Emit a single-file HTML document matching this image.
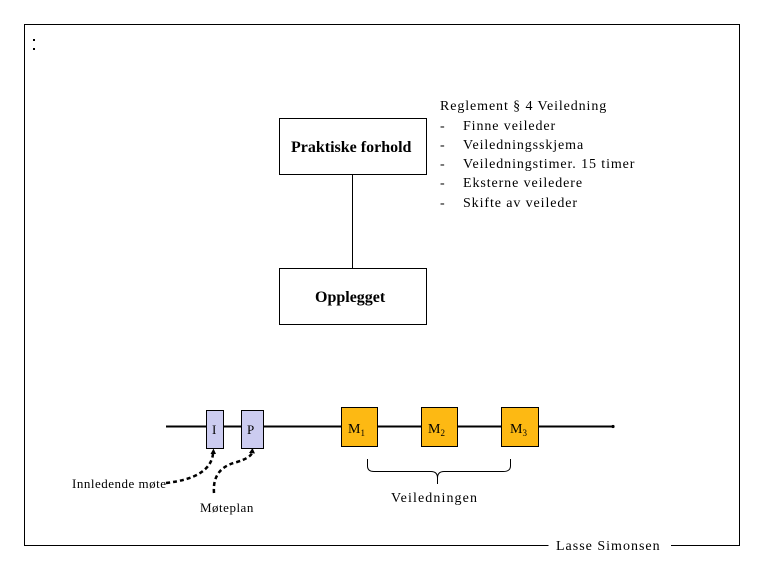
<!DOCTYPE html>
<html><head><meta charset="utf-8"><style>
html,body{margin:0;padding:0;background:#fff;}
svg{display:block;font-family:"Liberation Serif",serif;}
</style></head><body>
<svg width="765" height="570" viewBox="0 0 765 570" xmlns="http://www.w3.org/2000/svg">
<rect width="765" height="570" fill="#fff"/>
<g stroke="#000" stroke-width="1" fill="none">
<path d="M548.5 545.5 H24.5 V24.5 H739.5 V545.5 H671"/>
<rect x="279.5" y="118.5" width="147" height="56"/>
<rect x="279.5" y="268.5" width="147" height="56"/>
<line x1="352.5" y1="174" x2="352.5" y2="268"/>
<path d="M367.5 459 V466 Q367.5 471.5 374 471.5 H431 Q437.5 471.5 437.5 478 Q437.5 471.5 444 471.5 H503 Q510.5 471.5 510.5 466 V459"/>
<line x1="437.5" y1="476" x2="437.5" y2="484"/>
</g>
<line x1="166" y1="426.5" x2="612" y2="426.5" stroke="#000" stroke-width="2"/>
<circle cx="613" cy="426.5" r="1.6" fill="#000"/>
<rect x="206.5" y="410.5" width="17" height="38" fill="#ccccf0" stroke="#000"/>
<rect x="241.5" y="410.5" width="22" height="38" fill="#ccccf0" stroke="#000"/>
<rect x="341.5" y="407.5" width="36" height="39" fill="#fdb913" stroke="#000"/>
<rect x="421.5" y="407.5" width="36" height="39" fill="#fdb913" stroke="#000"/>
<rect x="501.5" y="407.5" width="37" height="39" fill="#fdb913" stroke="#000"/>
<g stroke="#000" stroke-width="2.5" fill="none" stroke-dasharray="4,3">
<path d="M166 483 Q210 478 213 454"/>
<path d="M214 493 Q212 468 237 462 Q250 458 252 453"/>
</g>
<path d="M210.5 454 L213.5 448.5 L216 454 Z" fill="#000"/>
<path d="M249 453 L252.5 448 L255 453.5 Z" fill="#000"/>
<g fill="#000" font-size="14">
<text x="212" y="434" font-size="13">I</text>
<text x="247" y="434" font-size="13">P</text>
<text x="348" y="433" font-size="14">M<tspan font-size="9" dy="3">1</tspan></text>
<text x="428" y="433" font-size="14">M<tspan font-size="9" dy="3">2</tspan></text>
<text x="510" y="433" font-size="14">M<tspan font-size="9" dy="3">3</tspan></text>
<text x="72" y="488" font-size="13" letter-spacing="0.5">Innledende møte</text>
<text x="200" y="512" font-size="13" letter-spacing="0.5">Møteplan</text>
<text x="391" y="502" font-size="14" letter-spacing="1.1">Veiledningen</text>
<text x="556" y="550" font-size="14" letter-spacing="1">Lasse Simonsen</text>
<text x="291" y="152" font-size="16" font-weight="bold">Praktiske forhold</text>
<text x="315" y="302" font-size="16" font-weight="bold">Opplegget</text>
<g letter-spacing="0.9">
<text x="440" y="110" font-size="14">Reglement § 4 Veiledning</text>
<text x="440" y="130" font-size="14">-</text><text x="463" y="130" font-size="14">Finne veileder</text>
<text x="440" y="149" font-size="14">-</text><text x="463" y="149" font-size="14">Veiledningsskjema</text>
<text x="440" y="168" font-size="14">-</text><text x="463" y="168" font-size="14">Veiledningstimer. 15 timer</text>
<text x="440" y="187" font-size="14">-</text><text x="463" y="187" font-size="14">Eksterne veiledere</text>
<text x="440" y="207" font-size="14">-</text><text x="463" y="207" font-size="14">Skifte av veileder</text>
</g>
</g>
<rect x="33" y="39" width="2" height="2" fill="#000"/>
<rect x="33" y="48" width="2" height="2" fill="#000"/>
</svg>
</body></html>
